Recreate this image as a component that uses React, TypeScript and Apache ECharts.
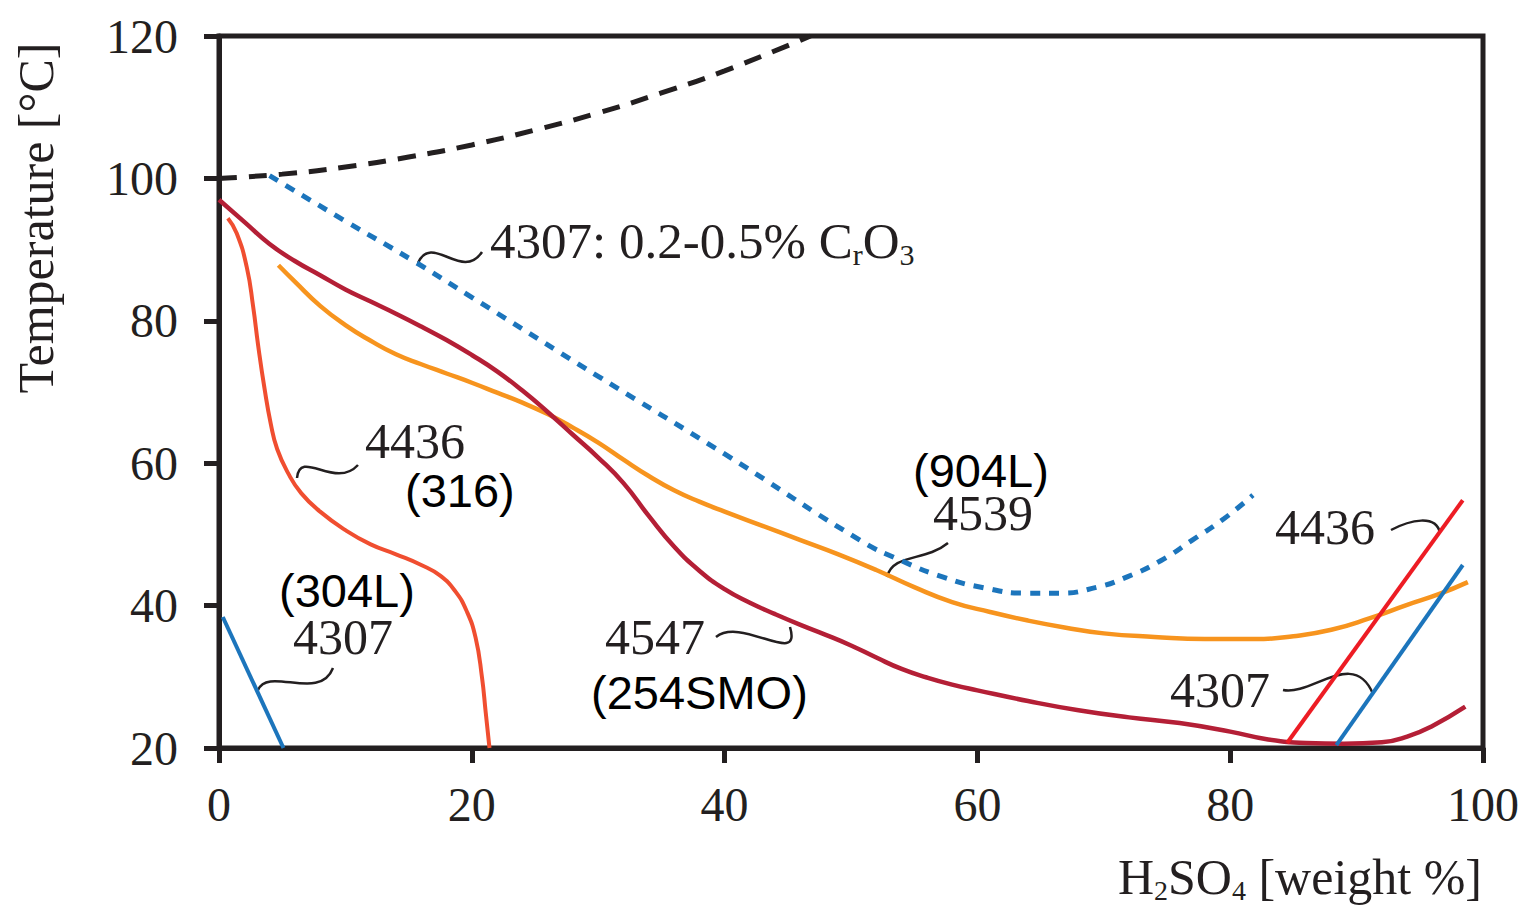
import React, { useEffect, useRef } from "react";
import * as echarts from "echarts";

// ---- axes ----
const xMin = 0;
const xMax = 100;
const xStep = 20;
const yMin = 20;
const yMax = 120;
const yStep = 20;

// ---- curves: [H2SO4 weight %, temperature °C] ----
const boilingPoint = [
  [0, 100], [5, 100.6], [10, 101.6], [15, 103], [20, 104.7], [25, 106.8],
  [30, 109.2], [35, 112], [40, 115.1], [46.8, 120],
];
const s4307CrO3 = [
  [4, 100.4], [10, 94], [15.3, 88.5], [20, 83.3], [30, 72.2], [40, 61.3],
  [50.7, 49.2], [54, 46.3], [57.3, 44], [60.5, 42.5], [63.9, 41.75], [66.5, 41.75],
  [69.5, 42.6], [71.8, 44], [74.5, 46.3], [77, 49.2], [79.5, 52.2], [81.8, 55.5],
];
const s4547 = [
  [0, 97], [2, 93.9], [4, 90.8], [6, 88.4], [8, 86.4], [10, 84.4], [12, 82.7],
  [14, 81], [16, 79.2], [18, 77.3], [20, 75.2], [22, 72.9], [24, 70.2], [26, 67.2],
  [28, 64], [30, 60.8], [32, 57.2], [34, 52.6], [36, 48.3], [38, 44.9], [40, 42.3],
  [42, 40.4], [44, 38.8], [46, 37.3], [48, 35.9], [50, 34.4], [52, 32.7], [54, 31.1],
  [56, 29.9], [58, 28.9], [60, 28.1], [64, 26.6], [68, 25.3], [72, 24.3], [76, 23.5],
  [80, 22.3], [83, 21.2], [86, 20.7], [89, 20.6], [92, 20.8], [94, 21.6], [96, 23.1],
  [98.6, 25.8],
];
const s4539 = [
  [4.7, 87.8], [6, 85.5], [8, 82.1], [10, 79.4], [12, 77.2], [14, 75.3], [16, 73.9],
  [18, 72.6], [20, 71.3], [22, 69.9], [24, 68.5], [26, 66.9], [28, 65], [30, 62.9],
  [32, 60.5], [34, 58.2], [36, 56.2], [38, 54.6], [40, 53.2], [43, 51.2], [46, 49.2],
  [49, 47.2], [52, 45], [55, 42.6], [58, 40.5], [61, 39.1], [64, 37.9], [67, 36.9],
  [70, 36.1], [74, 35.6], [78, 35.3], [82, 35.3], [85, 35.7], [88, 36.6], [91, 38.2],
  [94, 40.1], [96.5, 41.6], [98.8, 43.3],
];
const s4436Left = [
  [0.7, 94.4], [1.4, 92.3], [2.2, 87.5], [2.7, 82], [3.1, 76.5], [3.6, 70.5],
  [4.1, 65.5], [4.6, 62], [5.5, 58.5], [6.5, 55.8], [8, 53.2], [10, 50.6],
  [12, 48.6], [14, 47.2], [16, 45.7], [17.5, 44.2], [18.7, 42], [19.6, 39.2],
  [20.3, 35.5], [20.8, 30], [21.1, 25], [21.4, 20],
];
const s4307Left = [[0.3, 38.4], [5.1, 20]];
const s4436Right = [[84.5, 20.7], [98.4, 54.8]];
const s4307Right = [[88.4, 20.4], [98.4, 45.7]];

const INK = "#231f20";
const SERIF = "'Liberation Serif', 'DejaVu Serif', serif";
const SANS = "'Liberation Sans', Arial, sans-serif";

function serifText(text: string, x: number, y: number, rich?: any) {
  return {
    type: "text",
    x,
    y,
    silent: true,
    style: {
      text,
      fill: INK,
      fontFamily: SERIF,
      fontSize: 50,
      align: "left",
      verticalAlign: "middle",
      rich,
    },
  };
}
function sansText(text: string, x: number, y: number) {
  return {
    type: "text",
    x,
    y,
    silent: true,
    style: {
      text,
      fill: "#000",
      fontFamily: SANS,
      fontSize: 47,
      align: "left",
      verticalAlign: "middle",
    },
  };
}
function leader(p: number[]) {
  return {
    type: "bezierCurve",
    silent: true,
    shape: { x1: p[0], y1: p[1], cpx1: p[2], cpy1: p[3], cpx2: p[4], cpy2: p[5], x2: p[6], y2: p[7] },
    style: { stroke: INK, lineWidth: 2.5, fill: null },
  };
}

const subRich = {
  n: { fontFamily: SERIF, fontSize: 51, lineHeight: 56, fill: INK, verticalAlign: "middle" },
  s: { fontFamily: SERIF, fontSize: 30, lineHeight: 30, fill: INK, verticalAlign: "bottom" },
};
const nameRich = {
  n: { fontFamily: SERIF, fontSize: 50, lineHeight: 54, fill: INK, verticalAlign: "middle" },
  s: { fontFamily: SERIF, fontSize: 28, lineHeight: 30, fill: INK, verticalAlign: "bottom" },
};

function lineSeries(name: string, data: number[][], color: string, width: number, type: any = "solid", smooth: any = 0.5) {
  return {
    name,
    type: "line",
    data,
    smooth,
    symbol: "none",
    clip: true,
    lineStyle: { color, width, type, cap: "butt" },
  };
}

export default function App() {
  const ref = useRef<HTMLDivElement>(null);
  useEffect(() => {
    if (!ref.current) return;
    const chart = echarts.init(ref.current, undefined, { renderer: "svg" });
    const axisCommon = {
      axisLine: { show: true, lineStyle: { color: INK, width: 5 } },
      axisTick: { show: true, inside: false, length: 15, lineStyle: { color: INK, width: 5 } },
      splitLine: { show: false },
      axisLabel: { color: INK, fontFamily: SERIF, fontSize: 48 },
    };
    chart.setOption({
      animation: false,
      backgroundColor: "#fff",
      grid: {
        left: 219,
        right: 1524 - 1483,
        top: 36,
        bottom: 907 - 748,
        show: true,
        borderColor: INK,
        borderWidth: 5,
        containLabel: false,
      },
      xAxis: {
        type: "value",
        min: xMin,
        max: xMax,
        interval: xStep,
        ...axisCommon,
        axisLabel: { ...axisCommon.axisLabel, margin: 32 },
      },
      yAxis: {
        type: "value",
        min: yMin,
        max: yMax,
        interval: yStep,
        ...axisCommon,
        axisLabel: { ...axisCommon.axisLabel, margin: 41 },
      },
      series: [
        lineSeries("boiling", boilingPoint, INK, 5, [18, 12]),
        lineSeries("4307 CrO3", s4307CrO3, "#1c75bc", 5, [10, 9]),
        lineSeries("4539", s4539, "#f7941e", 4.5),
        lineSeries("4547", s4547, "#b41f36", 4.5),
        lineSeries("4436 left", s4436Left, "#f04e30", 4, "solid", 0.5),
        lineSeries("4307 left", s4307Left, "#1c75bc", 4, "solid", false),
        lineSeries("4436 right", s4436Right, "#ed1c24", 4, "solid", false),
        lineSeries("4307 right", s4307Right, "#1c75bc", 4, "solid", false),
      ],
      graphic: [
        {
          type: "text",
          x: 36,
          y: 218,
          rotation: Math.PI / 2,
          silent: true,
          style: {
            text: "Temperature [°C]",
            fill: INK,
            fontFamily: SERIF,
            fontSize: 50,
            align: "center",
            verticalAlign: "middle",
          },
        },
        {
          type: "text",
          x: 1482,
          y: 877,
          silent: true,
          style: {
            text: "{n|H}{s|2}{n|SO}{s|4}{n| [weight %]}",
            align: "right",
            verticalAlign: "middle",
            rich: nameRich,
          },
        },
        serifText("{n|4307: 0.2-0.5% C}{s|r}{n|O}{s|3}", 490, 241, subRich),
        leader([418, 263, 432, 232, 462, 282, 482, 252]),
        serifText("4436", 365, 441),
        sansText("(316)", 405, 490),
        leader([297, 478, 300, 448, 335, 490, 358, 465]),
        sansText("(304L)", 279, 590),
        serifText("4307", 293, 637),
        leader([258, 690, 268, 666, 320, 702, 333, 668]),
        serifText("4547", 605, 637),
        sansText("(254SMO)", 591, 692),
        leader([716, 637, 742, 616, 802, 668, 790, 627]),
        sansText("(904L)", 913, 470),
        serifText("4539", 933, 513),
        leader([887, 577, 893, 553, 925, 562, 948, 543]),
        serifText("4436", 1275, 527),
        leader([1391, 530, 1410, 520, 1436, 514, 1440, 533]),
        serifText("4307", 1170, 690),
        leader([1283, 690, 1312, 696, 1354, 648, 1373, 694]),
      ],
    });
    return () => chart.dispose();
  }, []);
  return (
    <div
      ref={ref}
      style={{ position: "fixed", left: 0, top: 0, width: "1524px", height: "907px", background: "#fff" }}
    />
  );
}
